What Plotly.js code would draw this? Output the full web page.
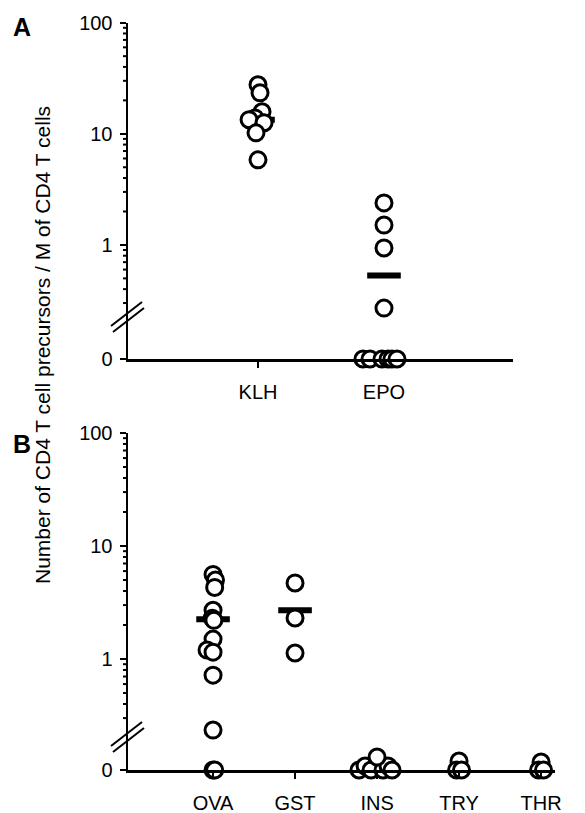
<!DOCTYPE html>
<html><head><meta charset="utf-8">
<script src="https://cdn.plot.ly/plotly-3.0.1.min.js"></script>
<style>html,body{margin:0;padding:0;background:#fff}#chart{width:585px;height:813px}</style>
</head><body><div id="chart"></div>
<script>
// ---------- DATA ----------
// Panel A
const catsA = ['KLH', 'EPO'];
const klh = [27.6, 23.4, 15.8, 13.9, 13.4, 12.6, 10.2, 5.83];
const epo = [2.39, 1.51, 0.94, 0.27, 0, 0, 0, 0, 0, 0];
const meansA = [13.4, 0.53];
// Panel B
const catsB = ['OVA', 'GST', 'INS', 'TRY', 'THR'];
const ova = [5.6, 5.0, 4.3, 2.7, 2.3, 2.2, 1.5, 1.2, 1.15, 0.72, 0.235, 0, 0];
const gst = [4.71, 2.31, 1.13];
const ins = [0, 0, 0, 0, 0, 0, 0];
const tryV = [0, 0, 0];
const thr = [0, 0, 0];
const meansB = [2.25, 2.7, 0, 0, 0];
const yTitle = 'Number of CD4 T cell precursors / M of CD4 T cells';
const majorTicks = [1, 10, 100];
const minorTicks = [0.3, 0.4, 0.5, 0.6, 0.7, 0.8, 0.9, 2, 3, 4, 5, 6, 7, 8, 9, 20, 30, 40, 50, 60, 70, 80, 90];

// ---------- point dodging (display only: horizontal spread in category units, vertical stacking of zeros in px) ----------
const dodgeKLH = [0, .016, .032, -.024, -.071, .048, -.016, 0];
const dodgeEPO = [0, 0, 0, 0, -.167, -.111, -.016, .032, .063, .103];
const dodgeOVA = [0, .03, .02, 0, -.01, .01, 0, -.073, 0, 0, 0, 0, .02];
const dodgeGST = [0, 0, 0];
const dodgeINS = [-.22, -.146, -.073, .073, .134, .183, 0];
const stackINS = [0, 4, 0, 0, 4, 0, 13];
const dodgeTRY = [0, -.03, .03];
const stackTRY = [9, 0, 0];
const dodgeTHR = [0, -.03, .03];
const stackTHR = [8, 0, 0];

// ---------- geometry ----------
const W = 585, H = 813;
const px2x = p => p / W, px2y = p => 1 - p / H;
const rangeXA = [-1.032, 2.024], rangeXB = [-1.037, 4.17];
const domXA = [128 / W, 513 / W], domXB = [128 / W, 555 / W];
const logRange = [Math.log10(0.2), 2];
const domA = [px2y(322.6), px2y(22.7)], domB = [px2y(738), px2y(433)];

// ---------- build traces ----------
const circle = {symbol: 'circle', size: 16, color: 'white', line: {color: 'black', width: 3}};
const traces = [];

function bars(xa, ylog, means) {
  const xs = [], ys = [];
  means.forEach((m, i) => { if (m > 0) { xs.push(i); ys.push(m); } });
  traces.push({type: 'scatter', mode: 'markers', x: xs, y: ys, xaxis: xa, yaxis: ylog, cliponaxis: false,
    marker: {symbol: 'line-ew', size: 24, line: {color: 'black', width: 6}}, hoverinfo: 'skip'});
}
function group(xa, ylog, yzero, idx, vals, dodge, stack) {
  const xp = [], yp = [], xz = [], yz = [];
  vals.forEach((v, i) => {
    if (v > 0) { xp.push(idx + dodge[i]); yp.push(v); }
    else { xz.push(idx + dodge[i]); yz.push(stack ? stack[i] : 0); }
  });
  if (xp.length) traces.push({type: 'scatter', mode: 'markers', x: xp, y: yp, xaxis: xa, yaxis: ylog, cliponaxis: false, marker: circle});
  if (xz.length) traces.push({type: 'scatter', mode: 'markers', x: xz, y: yz, xaxis: xa, yaxis: yzero, cliponaxis: false, marker: circle});
}

bars('x', 'y', meansA);
group('x', 'y', 'y2', 0, klh, dodgeKLH);
group('x', 'y', 'y2', 1, epo, dodgeEPO);

bars('x2', 'y3', meansB);
group('x2', 'y3', 'y4', 0, ova, dodgeOVA);
group('x2', 'y3', 'y4', 1, gst, dodgeGST);
group('x2', 'y3', 'y4', 2, ins, dodgeINS, stackINS);
group('x2', 'y3', 'y4', 3, tryV, dodgeTRY, stackTRY);
group('x2', 'y3', 'y4', 4, thr, dodgeTHR, stackTHR);

// ---------- layout ----------
const FONT = 'Liberation Sans, Arial, sans-serif';
const TF = {family: FONT, size: 20, color: 'black'};
function xAxis(dom, anchor, range, cats) {
  return {domain: dom, anchor: anchor, range: range, tickmode: 'array',
    tickvals: cats.map((c, i) => i), ticktext: cats, ticks: 'outside', ticklen: 6, tickwidth: 2,
    tickcolor: 'black', showline: true, linewidth: 3, linecolor: 'black', showgrid: false,
    zeroline: false, tickfont: TF, ticklabelstandoff: 7, fixedrange: true};
}
function logAxis(dom, anchor) {
  return {type: 'log', domain: dom, anchor: anchor, range: logRange, tickmode: 'array',
    tickvals: majorTicks, ticktext: majorTicks.map(String), ticks: 'outside', ticklen: 6, tickwidth: 2,
    tickcolor: 'black', showline: true, linewidth: 2.5, linecolor: 'black', showgrid: false, zeroline: false,
    tickfont: TF, ticklabelstandoff: 3, fixedrange: true};
}
function zeroAxis(dom, anchor, h) {
  return {domain: dom, anchor: anchor, range: [0, h], tickmode: 'array', tickvals: [0], ticktext: ['0'],
    ticks: 'outside', ticklen: 6, tickwidth: 2, tickcolor: 'black', showline: true, linewidth: 2.5,
    linecolor: 'black', showgrid: false, zeroline: false,
    tickfont: TF, ticklabelstandoff: 3, fixedrange: true};
}

// minor log ticks (axis decoration) as short paper-space segments left of the y axis line
function minorTickShapes(dom, axisPx) {
  return minorTicks.map(v => {
    const f = dom[0] + (Math.log10(v) - logRange[0]) / (logRange[1] - logRange[0]) * (dom[1] - dom[0]);
    return {type: 'line', xref: 'paper', yref: 'paper', x0: px2x(axisPx - 5), x1: px2x(axisPx), y0: f, y1: f,
      line: {color: 'black', width: 2}};
  });
}
// break marks ("//") on the y axes
function breakMarks(cx, cy) {
  const s = [];
  [[0, 0], [2, 6]].forEach(([ox, oy]) => {
    s.push({type: 'line', xref: 'paper', yref: 'paper', x0: px2x(cx - 16 + ox), y0: px2y(cy + 12 + oy),
      x1: px2x(cx + 15 + ox), y1: px2y(cy - 12 + oy), line: {color: 'black', width: 2}});
  });
  return s;
}

const layout = {
  width: W, height: H, margin: {l: 0, r: 0, t: 0, b: 0}, showlegend: false,
  paper_bgcolor: 'white', plot_bgcolor: 'white',
  font: {family: FONT, color: 'black'},
  xaxis: xAxis(domXA, 'y2', rangeXA, catsA),
  yaxis: logAxis(domA, 'x'),
  yaxis2: zeroAxis([px2y(359), px2y(322.6)], 'x', 36.4),
  xaxis2: xAxis(domXB, 'y4', rangeXB, catsB),
  yaxis3: logAxis(domB, 'x2'),
  yaxis4: zeroAxis([px2y(770), px2y(738)], 'x2', 32),
  shapes: [].concat(minorTickShapes(domA, 128), minorTickShapes(domB, 128),
    breakMarks(127, 314), breakMarks(127, 734)),
  annotations: [
    {text: '<b>A</b>', xref: 'paper', yref: 'paper', x: px2x(22), y: px2y(27), xanchor: 'center', yanchor: 'middle',
      showarrow: false, font: {family: FONT, size: 25, color: 'black'}},
    {text: '<b>B</b>', xref: 'paper', yref: 'paper', x: px2x(22), y: px2y(444), xanchor: 'center', yanchor: 'middle',
      showarrow: false, font: {family: FONT, size: 25, color: 'black'}},
    {text: yTitle, xref: 'paper', yref: 'paper', x: px2x(42), y: px2y(345), xanchor: 'center', yanchor: 'middle',
      showarrow: false, textangle: -90, font: {family: FONT, size: 21, color: 'black'}}
  ]
};

Plotly.newPlot('chart', traces, layout, {staticPlot: true, displayModeBar: false});
</script></body></html>
